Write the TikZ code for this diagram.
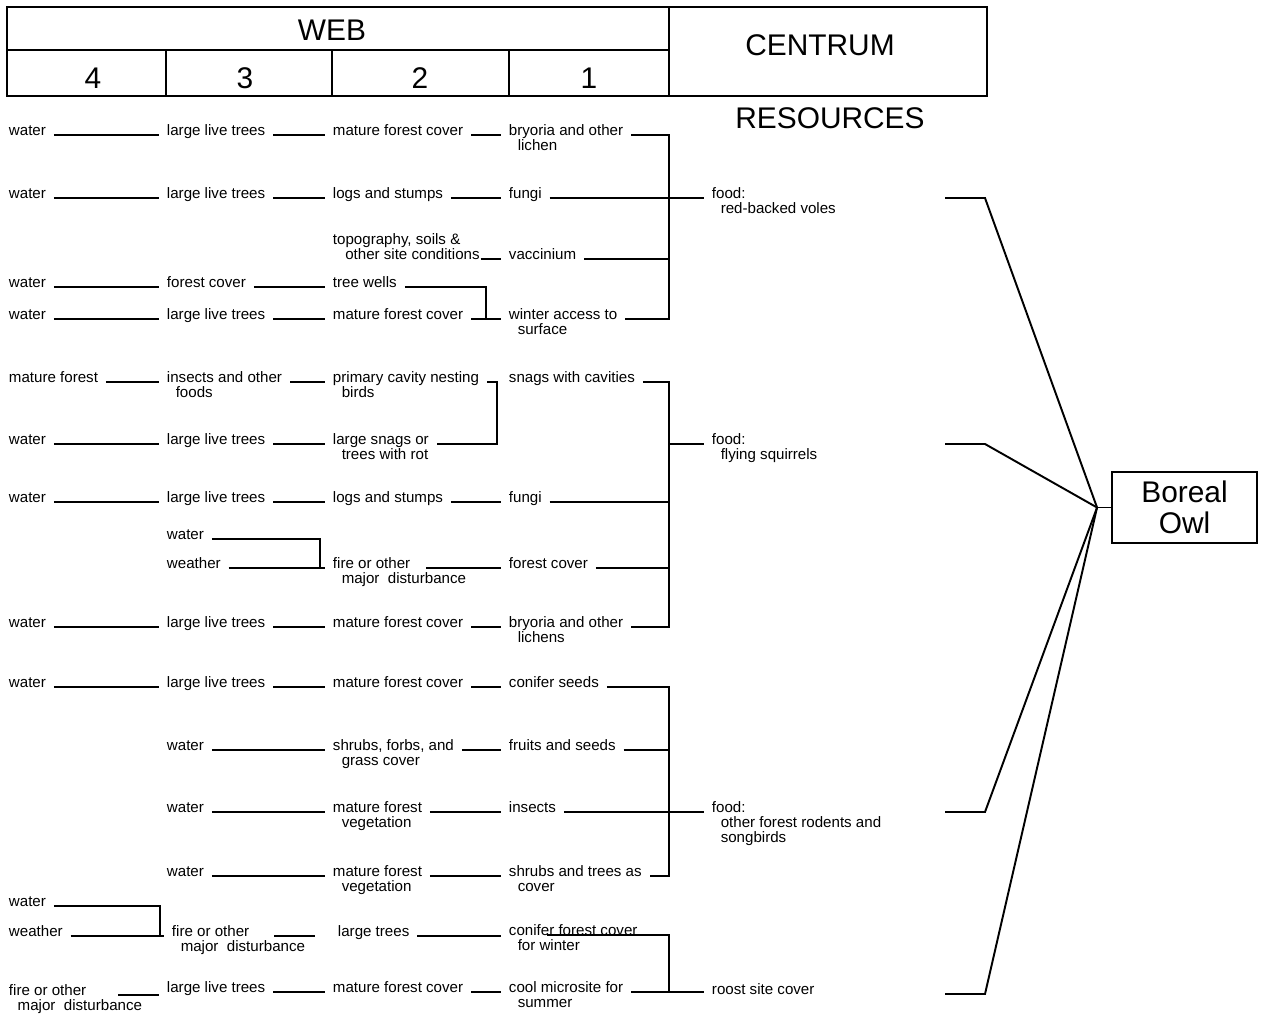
\documentclass[tikz,border=0pt]{standalone}
\usepackage{fontspec}
\setmainfont{Liberation Sans}
\usetikzlibrary{calc}
\newcommand{\indt}{\hspace*{5pt}}
\newcommand{\twol}[2]{\vtop{\hbox{#1}\hbox{\indt #2}}}
\tikzstyle{txt}=[anchor=base west, inner sep=0pt,
    font=\fontsize{8.6}{8.54}\selectfont]
\tikzstyle{big}=[inner sep=0pt, font=\fontsize{17}{18}\selectfont]
\tikzstyle{link}=[shorten <=4pt, shorten >=4pt]
\tikzstyle{stub}=[shorten <=4pt]

\begin{document}
\begin{tikzpicture}[x=0.02cm, y=-0.02cm, line width=1.1pt]
  \useasboundingbox (0,0) rectangle (1265,1015);
  % header
  \draw (7,7) rectangle (987,96);
  \draw (7,50) -- (669,50);
  \draw (669,7) -- (669,96);
  \draw (166,50) -- (166,96);
  \draw (332,50) -- (332,96);
  \draw (509,50) -- (509,96);
  \node at (332,30) (web)[big] {WEB};
  \node at (93,78) (n4)[big] {4};
  \node at (245,78) (n3)[big] {3};
  \node at (420,78) (n2)[big] {2};
  \node at (589,78) (n1)[big] {1};
  \node at (820,45) (cen)[big] {CENTRUM};
  \node at (830,118) (res)[big] {RESOURCES};
  \node[draw, align=center, minimum width=2.9cm, minimum height=1.42cm] at (1184.5,507.5) (owl)[big] {Boreal\\Owl};

  \coordinate (brk) at (669,0);
  \coordinate (tap) at (945,0);
  \coordinate (bend) at (985,0);
  \coordinate (hub) at ($(owl.west)+(-14,0)$);

  % red-backed voles
  \node at (8,135) (a14)[txt] {water};
  \node at (166,135) (a13)[txt] {large live trees};
  \node at (332,135) (a12)[txt] {mature forest cover};
  \node at (508,135) (a11)[txt] {\twol{bryoria and other}{lichen}};
  \node at (8,198) (a24)[txt] {water};
  \node at (166,198) (a23)[txt] {large live trees};
  \node at (332,198) (a22)[txt] {logs and stumps};
  \node at (508,198) (a21)[txt] {fungi};
  \node at (332,244) (a32)[txt] {\vtop{\hbox{topography, soils \&}\hbox{\hspace*{7pt}other site conditions}}};
  \node at (508,259) (a31)[txt] {vaccinium};
  \node at (8,287) (a44)[txt] {water};
  \node at (166,287) (a43)[txt] {forest cover};
  \node at (332,287) (a42)[txt] {tree wells};
  \node at (8,319) (a54)[txt] {water};
  \node at (166,319) (a53)[txt] {large live trees};
  \node at (332,319) (a52)[txt] {mature forest cover};
  \node at (508,319) (a51)[txt] {\twol{winter access to}{surface}};
  \node at (711,198) (fa)[txt] {\twol{food:}{red-backed voles}};

  \draw[link] (a14.base east) -- (a13.base west);
  \draw[link] (a13.base east) -- (a12.base west);
  \draw[link] (a12.base east) -- (a11.base west);
  \draw[link] (a24.base east) -- (a23.base west);
  \draw[link] (a23.base east) -- (a22.base west);
  \draw[link] (a22.base east) -- (a21.base west);
  \draw[link] (a21.base east) -- (fa.base west);
  \draw[shorten >=4pt] (a32.east |- a31.base) -- (a31.base west);
  \draw[link] (a44.base east) -- (a43.base west);
  \draw[link] (a43.base east) -- (a42.base west);
  \draw[link] (a54.base east) -- (a53.base west);
  \draw[link] (a53.base east) -- (a52.base west);
  \draw[link] (a52.base east) -- (a51.base west);
  \draw[stub] (a42.base east) -| ($(a52.base east)!.5!(a51.base west)$);
  \draw[link] (a11.base east) -- (a11.base -| brk) |- (a51.base east);
  \draw[stub] (a31.base east) -- (a31.base -| brk);

  % flying squirrels
  \node at (8,382) (b14)[txt] {mature forest};
  \node at (166,382) (b13)[txt] {\twol{insects and other}{foods}};
  \node at (332,382) (b12)[txt] {\twol{primary cavity nesting}{birds}};
  \node at (508,382) (b11)[txt] {snags with cavities};
  \node at (8,444) (b24)[txt] {water};
  \node at (166,444) (b23)[txt] {large live trees};
  \node at (332,444) (b22)[txt] {\twol{large snags or}{trees with rot}};
  \node at (8,502) (b34)[txt] {water};
  \node at (166,502) (b33)[txt] {large live trees};
  \node at (332,502) (b32)[txt] {logs and stumps};
  \node at (508,502) (b31)[txt] {fungi};
  \node at (166,539) (b43a)[txt] {water};
  \node at (166,568) (b43b)[txt] {weather};
  \node at (332,568) (b42)[txt] {\twol{fire or other}{major\ \ disturbance}};
  \node at (508,568) (b41)[txt] {forest cover};
  \node at (8,627) (b54)[txt] {water};
  \node at (166,627) (b53)[txt] {large live trees};
  \node at (332,627) (b52)[txt] {mature forest cover};
  \node at (508,627) (b51)[txt] {\twol{bryoria and other}{lichens}};
  \node at (711,444) (fb)[txt] {\twol{food:}{flying squirrels}};

  \draw[link] (b14.base east) -- (b13.base west);
  \draw[link] (b13.base east) -- (b12.base west);
  \draw[link] (b12.base east) -- (b12.base -| {$(b11.base west)+(-11,0)$}) |- (b22.base east);
  \draw[link] (b24.base east) -- (b23.base west);
  \draw[link] (b23.base east) -- (b22.base west);
  \draw[link] (b34.base east) -- (b33.base west);
  \draw[link] (b33.base east) -- (b32.base west);
  \draw[link] (b32.base east) -- (b31.base west);
  \draw[stub] (b43a.base east) -| ($(b42.base west)+(-12,0)$);
  \draw[link] (b43b.base east) -- (b42.base west);
  \draw[shorten >=4pt] ($(b42.base west)+(94,0)$) -- (b41.base west);
  \draw[link] (b54.base east) -- (b53.base west);
  \draw[link] (b53.base east) -- (b52.base west);
  \draw[link] (b52.base east) -- (b51.base west);
  \draw[link] (b11.base east) -- (b11.base -| brk) |- (b51.base east);
  \draw[stub] (b31.base east) -- (b31.base -| brk);
  \draw[stub] (b41.base east) -- (b41.base -| brk);
  \draw[shorten >=4pt] (brk |- fb.base) -- (fb.base west);

  % other rodents and songbirds
  \node at (8,687) (c14)[txt] {water};
  \node at (166,687) (c13)[txt] {large live trees};
  \node at (332,687) (c12)[txt] {mature forest cover};
  \node at (508,687) (c11)[txt] {conifer seeds};
  \node at (166,750) (c23)[txt] {water};
  \node at (332,750) (c22)[txt] {\twol{shrubs, forbs, and}{grass cover}};
  \node at (508,750) (c21)[txt] {fruits and seeds};
  \node at (166,812) (c33)[txt] {water};
  \node at (332,812) (c32)[txt] {\twol{mature forest}{vegetation}};
  \node at (508,812) (c31)[txt] {insects};
  \node at (166,876) (c43)[txt] {water};
  \node at (332,876) (c42)[txt] {\twol{mature forest}{vegetation}};
  \node at (508,876) (c41)[txt] {\twol{shrubs and trees as}{cover}};
  \node at (711,812) (fc)[txt] {\vtop{\hbox{food:}\hbox{\indt other forest rodents and}\hbox{\indt songbirds}}};

  \draw[link] (c14.base east) -- (c13.base west);
  \draw[link] (c13.base east) -- (c12.base west);
  \draw[link] (c12.base east) -- (c11.base west);
  \draw[link] (c23.base east) -- (c22.base west);
  \draw[link] (c22.base east) -- (c21.base west);
  \draw[link] (c33.base east) -- (c32.base west);
  \draw[link] (c32.base east) -- (c31.base west);
  \draw[link] (c31.base east) -- (fc.base west);
  \draw[link] (c43.base east) -- (c42.base west);
  \draw[link] (c42.base east) -- (c41.base west);
  \draw[link] (c11.base east) -- (c11.base -| brk) |- (c41.base east);
  \draw[stub] (c21.base east) -- (c21.base -| brk);

  % roost site cover
  \node at (8,906) (d14a)[txt] {water};
  \node at (8,936) (d14b)[txt] {weather};
  \node at (171,936) (d13)[txt] {\twol{fire or other}{major\ \ disturbance}};
  \node at (337,936) (d12)[txt] {large trees};
  \node at (508,935) (d11)[txt] {\twol{conifer forest cover}{for winter}};
  \node at (8,995) (d24)[txt] {\twol{fire or other}{major\ \ disturbance}};
  \node at (166,992) (d23)[txt] {large live trees};
  \node at (332,992) (d22)[txt] {mature forest cover};
  \node at (508,992) (d21)[txt] {\twol{cool microsite for}{summer}};
  \node at (711,994) (fd)[txt] {roost site cover};

  \draw[stub] (d14a.base east) -| ($(d13.base west)+(-11,0)$);
  \draw[link] (d14b.base east) -- (d13.base west);
  \draw ($(d13.base west)+(103,0)$) -- ($(d12.base west)+(-22,0)$);
  \draw[link] (d12.base east) -- (d11.base west |- d12.base);
  \draw ($(d11.base west)+(39,0)$) -- (d11.base -| brk) |- (d21.base -| brk);
  \draw[shorten >=4pt] ($(d24.base west)+(110,0)$) -- (d23.base west |- d24.base);
  \draw[link] (d23.base east) -- (d22.base west);
  \draw[link] (d22.base east) -- (d21.base west);
  \draw[link] (d21.base east) -- (fd.base west |- d21.base);

  % to the owl
  \draw (tap |- fa.base) -- (bend |- fa.base) -- (hub);
  \draw (tap |- fb.base) -- (bend |- fb.base) -- (hub);
  \draw (tap |- fc.base) -- (bend |- fc.base) -- (hub);
  \draw (tap |- fd.base) -- (bend |- fd.base) -- (hub);
  \draw (hub) -- (owl.west);
\end{tikzpicture}
\end{document}
